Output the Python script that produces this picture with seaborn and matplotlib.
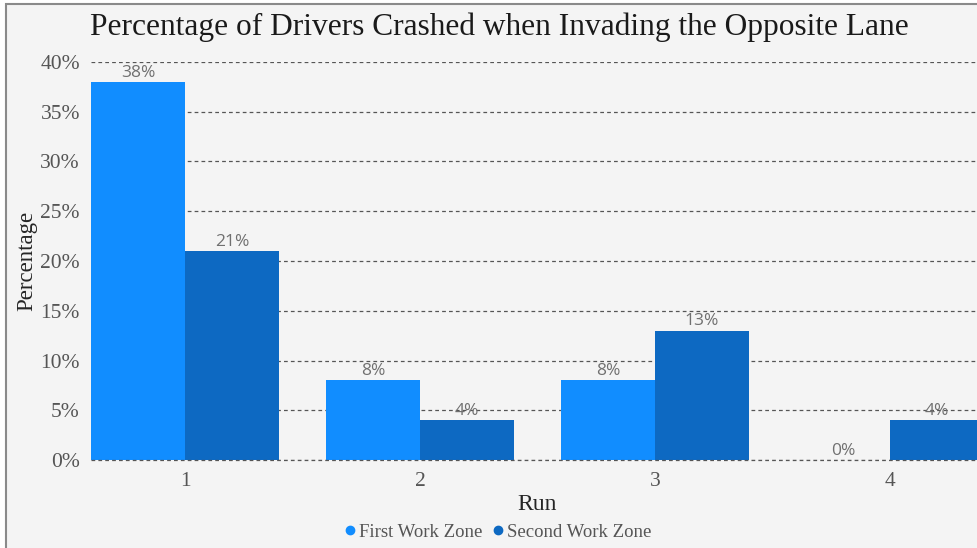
import matplotlib.pyplot as plt
import matplotlib.patches as mpatches
from matplotlib.lines import Line2D
from matplotlib.ticker import PercentFormatter
import seaborn as sns
import pandas as pd

# values
runs = ['1', '2', '3', '4']
first_zone = [38, 8, 8, 0]
second_zone = [21, 4, 13, 4]
zones = ['First Work Zone', 'Second Work Zone']
colors = ['#118dff', '#0d69c2']

df = pd.DataFrame({
    'Run': runs * 2,
    'Percentage': first_zone + second_zone,
    'Zone': [zones[0]] * len(runs) + [zones[1]] * len(runs),
})

sns.set_theme(style='white')
plt.rcParams['font.family'] = ['Liberation Serif', 'DejaVu Serif']

W, H = 978, 548
fig = plt.figure(figsize=(W / 100, H / 100), dpi=100)
fig.patch.set_facecolor('white')

# panel background + frame (the screenshot crops right / bottom edges)
fig.patches.append(mpatches.Rectangle((6 / W, -0.1), 1.2, 1 - 4 / H + 0.1, transform=fig.transFigure,
                                      facecolor='#f4f4f4', edgecolor='#8a8a8a', linewidth=1.5, zorder=-10))

ax = fig.add_axes([91 / W, 1 - 460 / H, (984 - 91) / W, (460 - 62) / H])
ax.set_facecolor('none')

sns.barplot(data=df, x='Run', y='Percentage', hue='Zone', palette=colors, saturation=1,
            width=0.8, ax=ax, legend=False, zorder=3, linewidth=0, edgecolor='none')

ax.set_xlim(-0.4, 3.4)
ax.set_ylim(0, 40)
ax.set_yticks(range(0, 41, 5))
ax.yaxis.set_major_formatter(PercentFormatter(decimals=0))
for s in ax.spines.values():
    s.set_visible(False)
ax.grid(axis='y', color='#555555', linestyle=(0, (3, 2.5)), linewidth=0.9, zorder=0)
ax.set_axisbelow(True)
# baseline dashed line drawn over the bar bottoms
ax.axhline(0, color='#555555', linestyle=(0, (3, 2.5)), linewidth=0.9, clip_on=False, zorder=4)
ax.tick_params(axis='both', length=0, labelsize=15.5, labelcolor='#555555')
ax.tick_params(axis='x', pad=9)
ax.tick_params(axis='y', pad=8)

for cont in ax.containers:
    labels = [f'{v:.0f}%' for v in cont.datavalues]
    ax.bar_label(cont, labels=labels, padding=1, fontsize=12.5, color='#707070', family='Open Sans')

ax.set_xlabel('Run', fontsize=17, color='#252525', labelpad=2)
ax.set_ylabel('Percentage', fontsize=16.5, color='#252525', labelpad=2)

fig.text(499 / W, 1 - 27 / H, 'Percentage of Drivers Crashed when Invading the Opposite Lane',
         ha='center', va='center', fontsize=22.6, color='#1a1a1a')

handles = [Line2D([], [], marker='o', linestyle='', markersize=6, color=c) for c in colors]
fig.legend(handles, zones, loc='center', bbox_to_anchor=(497 / W, 1 - 532 / H), ncol=2, frameon=False,
           fontsize=13.5, labelcolor='#555555', handletextpad=0.1, columnspacing=0.4, handlelength=0.8)

fig.savefig('out.png', dpi=100)
